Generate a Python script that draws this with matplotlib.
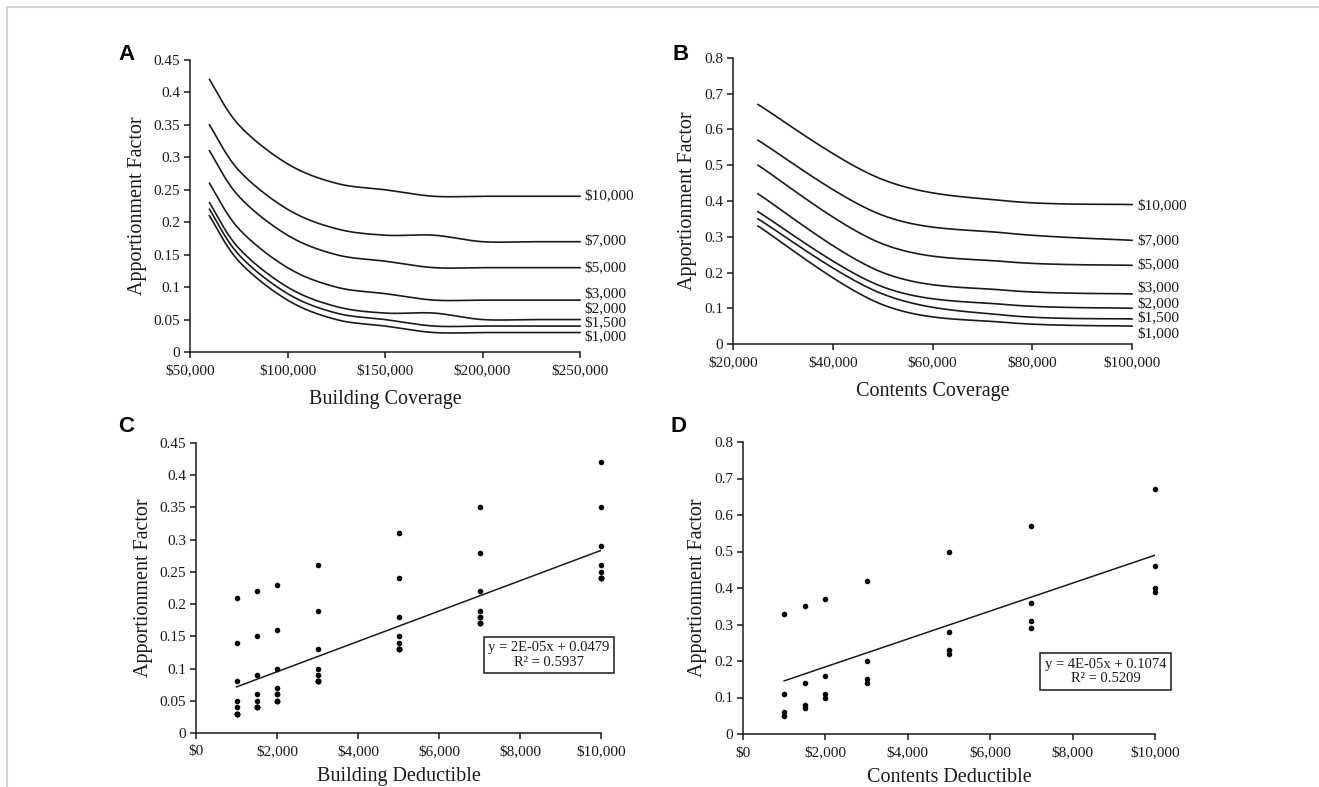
import matplotlib
matplotlib.use("Agg")
import matplotlib.pyplot as plt
import numpy as np
from matplotlib.ticker import FuncFormatter, MultipleLocator
from matplotlib.lines import Line2D

plt.rcParams['font.family'] = ['Liberation Serif', 'DejaVu Serif']

INK = '#1a1a1a'

# Deductible levels (one curve per level)
deductibles = [1000, 1500, 2000, 3000, 5000, 7000, 10000]
ded_labels = ['$1,000', '$1,500', '$2,000', '$3,000', '$5,000', '$7,000', '$10,000']

# Panel A: building coverage
bldg_coverage = [60000, 75000, 100000, 125000, 150000, 175000, 200000, 225000, 250000]
bldg_factor = {
    1000:  [0.21, 0.14, 0.08, 0.05, 0.04, 0.03, 0.03, 0.03, 0.03],
    1500:  [0.22, 0.15, 0.09, 0.06, 0.05, 0.04, 0.04, 0.04, 0.04],
    2000:  [0.23, 0.16, 0.10, 0.07, 0.06, 0.06, 0.05, 0.05, 0.05],
    3000:  [0.26, 0.19, 0.13, 0.10, 0.09, 0.08, 0.08, 0.08, 0.08],
    5000:  [0.31, 0.24, 0.18, 0.15, 0.14, 0.13, 0.13, 0.13, 0.13],
    7000:  [0.35, 0.28, 0.22, 0.19, 0.18, 0.18, 0.17, 0.17, 0.17],
    10000: [0.42, 0.35, 0.29, 0.26, 0.25, 0.24, 0.24, 0.24, 0.24],
}
bldg_label_y = [0.024, 0.045, 0.066, 0.090, 0.130, 0.171, 0.241]

# Panel B: contents coverage
cont_coverage = [25000, 50000, 75000, 100000]
cont_factor = {
    1000:  [0.33, 0.11, 0.06, 0.05],
    1500:  [0.35, 0.14, 0.08, 0.07],
    2000:  [0.37, 0.16, 0.11, 0.10],
    3000:  [0.42, 0.20, 0.15, 0.14],
    5000:  [0.50, 0.28, 0.23, 0.22],
    7000:  [0.57, 0.36, 0.31, 0.29],
    10000: [0.67, 0.46, 0.40, 0.39],
}
cont_label_y = [0.030, 0.0745, 0.114, 0.158, 0.221, 0.290, 0.388]

bldg_eq = 'y = 2E-05x + 0.0479\nR² = 0.5937'
cont_eq = 'y = 4E-05x + 0.1074\nR² = 0.5209'

W, H = 1319, 787


def smooth_path(ax, xs, ys, n=40):
    """Excel-style smoothed line: cubic Bezier through points, in screen space."""
    pts = ax.transData.transform(np.column_stack([xs, ys]))
    m = len(pts)
    out = []
    for i in range(m - 1):
        p0 = pts[max(i - 1, 0)]
        p1 = pts[i]
        p2 = pts[i + 1]
        p3 = pts[min(i + 2, m - 1)]
        c1 = p1 + (p2 - p0) / 6.0
        c2 = p2 - (p3 - p1) / 6.0
        t = np.linspace(0, 1, n)[:, None]
        seg = ((1 - t) ** 3) * p1 + 3 * ((1 - t) ** 2) * t * c1 \
            + 3 * (1 - t) * t ** 2 * c2 + t ** 3 * p2
        out.append(seg if i == 0 else seg[1:])
    out = np.vstack(out)
    data = ax.transData.inverted().transform(out)
    return data[:, 0], data[:, 1]


def style_axes(ax, xlim, ylim, xstep, ystep):
    ax.set_xlim(*xlim)
    ax.set_ylim(*ylim)
    ax.xaxis.set_major_locator(MultipleLocator(xstep))
    ax.yaxis.set_major_locator(MultipleLocator(ystep))
    ax.xaxis.set_major_formatter(FuncFormatter(lambda v, _: f'${v:,.0f}'))
    ax.yaxis.set_major_formatter(FuncFormatter(lambda v, _: f'{v:.2f}'.rstrip('0').rstrip('.')))
    for s in ['top', 'right']:
        ax.spines[s].set_visible(False)
    for s in ['left', 'bottom']:
        ax.spines[s].set_color(INK)
        ax.spines[s].set_linewidth(1.1)
    ax.tick_params(direction='out', length=4, width=1.1, color=INK,
                   labelsize=11, labelcolor=INK)
    ax.tick_params(axis='x', pad=5)
    ax.tick_params(axis='y', pad=3)
    ax.set_ylabel('Apportionment Factor', fontsize=14.5, color=INK, labelpad=5)


def add_axes(l, t, r, b):
    return fig.add_axes([l / W, 1 - b / H, (r - l) / W, (b - t) / H])


fig = plt.figure(figsize=(W / 100, H / 100), dpi=100)

# light frame around the figure
fig.add_artist(Line2D([7 / W, 1], [1 - 7 / H, 1 - 7 / H], color='#d4d4d4', lw=1.5))
fig.add_artist(Line2D([7 / W, 7 / W], [0, 1 - 7 / H], color='#d4d4d4', lw=1.5))

axA = add_axes(190, 60, 580, 352)
axB = add_axes(733, 58, 1132, 344)
axC = add_axes(196, 443, 601, 733)
axD = add_axes(743, 442, 1155, 734)

# --- A: apportionment vs building coverage
style_axes(axA, (50000, 250000), (0, 0.45), 50000, 0.05)
for d, ly, lab in zip(deductibles, bldg_label_y, ded_labels):
    sx, sy = smooth_path(axA, bldg_coverage, bldg_factor[d])
    axA.plot(sx, sy, color=INK, lw=1.2, clip_on=False)
    axA.text(252000, ly, lab, fontsize=11, color=INK, ha='left', va='center')
axA.set_xlabel('Building Coverage', fontsize=14.5, color=INK, labelpad=9)

# --- B: apportionment vs contents coverage
style_axes(axB, (20000, 100000), (0, 0.8), 20000, 0.1)
for d, ly, lab in zip(deductibles, cont_label_y, ded_labels):
    sx, sy = smooth_path(axB, cont_coverage, cont_factor[d])
    axB.plot(sx, sy, color=INK, lw=1.2, clip_on=False)
    axB.text(101000, ly, lab, fontsize=11, color=INK, ha='left', va='center')
axB.set_xlabel('Contents Coverage', fontsize=14.5, color=INK, labelpad=9)


def scatter_panel(ax, coverage, factor, eq, box_xy, xlabel):
    xs = np.concatenate([[d] * len(coverage) for d in deductibles])
    ys = np.concatenate([factor[d] for d in deductibles])
    ax.scatter(xs, ys, s=9, color='black', zorder=3, clip_on=False)
    k, c = np.polyfit(xs, ys, 1)
    fx = np.array([deductibles[0], deductibles[-1]])
    ax.plot(fx, k * fx + c, color=INK, lw=1.1)
    ax.text(box_xy[0], box_xy[1], eq, transform=ax.transAxes, fontsize=10.5,
            color=INK, ha='center', va='center', linespacing=1.15,
            bbox=dict(boxstyle='square,pad=0.3', fc='white', ec=INK, lw=1.1))
    ax.set_xlabel(xlabel, fontsize=14.5, color=INK, labelpad=6)


# --- C: building deductible scatter with linear trend
style_axes(axC, (0, 10000), (0, 0.45), 2000, 0.05)
scatter_panel(axC, bldg_coverage, bldg_factor, bldg_eq, (0.872, 0.269),
              'Building Deductible')

# --- D: contents deductible scatter with linear trend
style_axes(axD, (0, 10000), (0, 0.8), 2000, 0.1)
scatter_panel(axD, cont_coverage, cont_factor, cont_eq, (0.880, 0.214),
              'Contents Deductible')

# panel letters
for letter, (px, py) in zip('ABCD', [(118, 60), (672, 60), (118, 432), (671, 432)]):
    fig.text(px / W, 1 - py / H, letter, fontsize=16, fontweight='bold',
             family=['Liberation Sans', 'DejaVu Sans'], ha='left', va='baseline')

fig.savefig('out.png', dpi=100)
